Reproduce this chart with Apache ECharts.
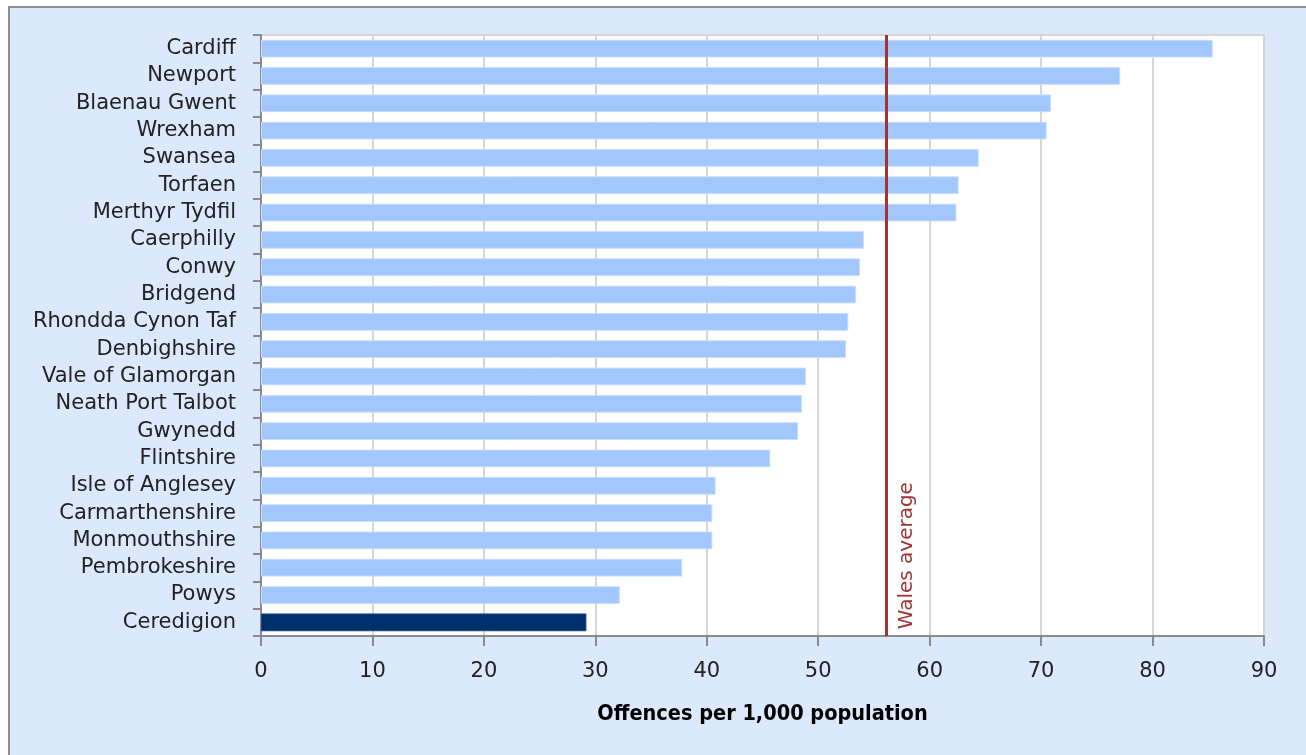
<!DOCTYPE html>
<html>
<head>
<meta charset="utf-8">
<script src="https://cdn.jsdelivr.net/npm/echarts@6/dist/echarts.min.js"></script>
<style>
  html, body { margin: 0; padding: 0; background: #ffffff; }
  #main { width: 1306px; height: 755px; }
</style>
</head>
<body>
<div id="main"></div>
<script>
// 地区名称（从上到下）
var areas = ['Cardiff', 'Newport', 'Blaenau Gwent', 'Wrexham', 'Swansea', 'Torfaen',
  'Merthyr Tydfil', 'Caerphilly', 'Conwy', 'Bridgend', 'Rhondda Cynon Taf', 'Denbighshire',
  'Vale of Glamorgan', 'Neath Port Talbot', 'Gwynedd', 'Flintshire', 'Isle of Anglesey',
  'Carmarthenshire', 'Monmouthshire', 'Pembrokeshire', 'Powys', 'Ceredigion'];
// 每千人犯罪数
var offences = [85.4, 77.1, 70.9, 70.5, 64.4, 62.6, 62.4, 54.1, 53.75, 53.4, 52.7, 52.5,
  48.9, 48.55, 48.2, 45.7, 40.8, 40.5, 40.5, 37.8, 32.2, 29.2];
var highlight = 'Ceredigion';
var walesAverage = 56.1;
var xTicks = { min: 0, max: 90, interval: 10 };

var font = 'DejaVu Sans, sans-serif';
var fontNarrow = 'DejaVu Sans Condensed, DejaVu Sans, sans-serif';
var chart = echarts.init(document.getElementById('main'));

var option = {
  backgroundColor: '#ffffff',
  animation: false,
  grid: {  //绘图区
    left: 261,
    right: 42,
    top: 35,
    bottom: 119,
    show: true,
    backgroundColor: '#ffffff',
    borderColor: '#d6d6d6',
    borderWidth: 2
  },
  xAxis: {
    type: 'value',
    min: xTicks.min,
    max: xTicks.max,
    interval: xTicks.interval,
    name: 'Offences per 1,000 population',
    nameLocation: 'middle',
    nameGap: 67,
    nameTextStyle: { fontFamily: fontNarrow, fontWeight: 'bold', fontSize: 21.5, color: '#000' },
    axisLine: { show: true, lineStyle: { color: '#8a8a8a', width: 2 } },
    axisTick: { show: true, length: 10, lineStyle: { color: '#8a8a8a', width: 2 } },
    axisLabel: { fontFamily: font, fontSize: 21, color: '#222', margin: 25 },
    splitLine: { lineStyle: { color: '#d6d6d6', width: 2 } }
  },
  yAxis: {
    type: 'category',
    data: areas,
    inverse: true,
    axisLine: { lineStyle: { color: '#8a8a8a', width: 2 } },
    axisTick: { show: true, length: 8, lineStyle: { color: '#8a8a8a', width: 2 } },
    axisLabel: { fontFamily: font, fontSize: 21, color: '#222', margin: 25 },
    splitLine: { show: false }
  },
  series: [{
    type: 'bar',
    barCategoryGap: '35%',
    data: offences.map(function (v, i) {
      var hi = areas[i] === highlight;
      return {
        value: v,
        itemStyle: {
          color: hi ? '#00306c' : '#a2c7fd',
          borderColor: hi ? '#1a4680' : '#c8defe',
          borderWidth: 1
        }
      };
    }),
    markLine: {  //威尔士平均线
      silent: true,
      symbol: 'none',
      lineStyle: { color: '#a03535', width: 3, type: 'solid' },
      label: { show: false },
      data: [{ xAxis: walesAverage }]
    }
  }]
};

chart.setOption(option);

// 平均线文字：用坐标轴换算位置
var p = chart.convertToPixel({ gridIndex: 0 }, [walesAverage, highlight]);
chart.setOption({
  graphic: [{
    type: 'rect',
    z: -10,
    shape: { x: 9, y: 7, width: 1320, height: 770 },
    style: { fill: '#dce9fc', stroke: '#8f8f8f', lineWidth: 2 }
  }, {
    type: 'text',
    x: p[0] + 21,
    y: p[1] + 7,
    rotation: Math.PI / 2,
    z: 10,
    style: {
      text: 'Wales average',
      fill: '#a03535',
      font: '20px ' + font,
      align: 'left',
      verticalAlign: 'middle'
    }
  }]
});
</script>
</body>
</html>
